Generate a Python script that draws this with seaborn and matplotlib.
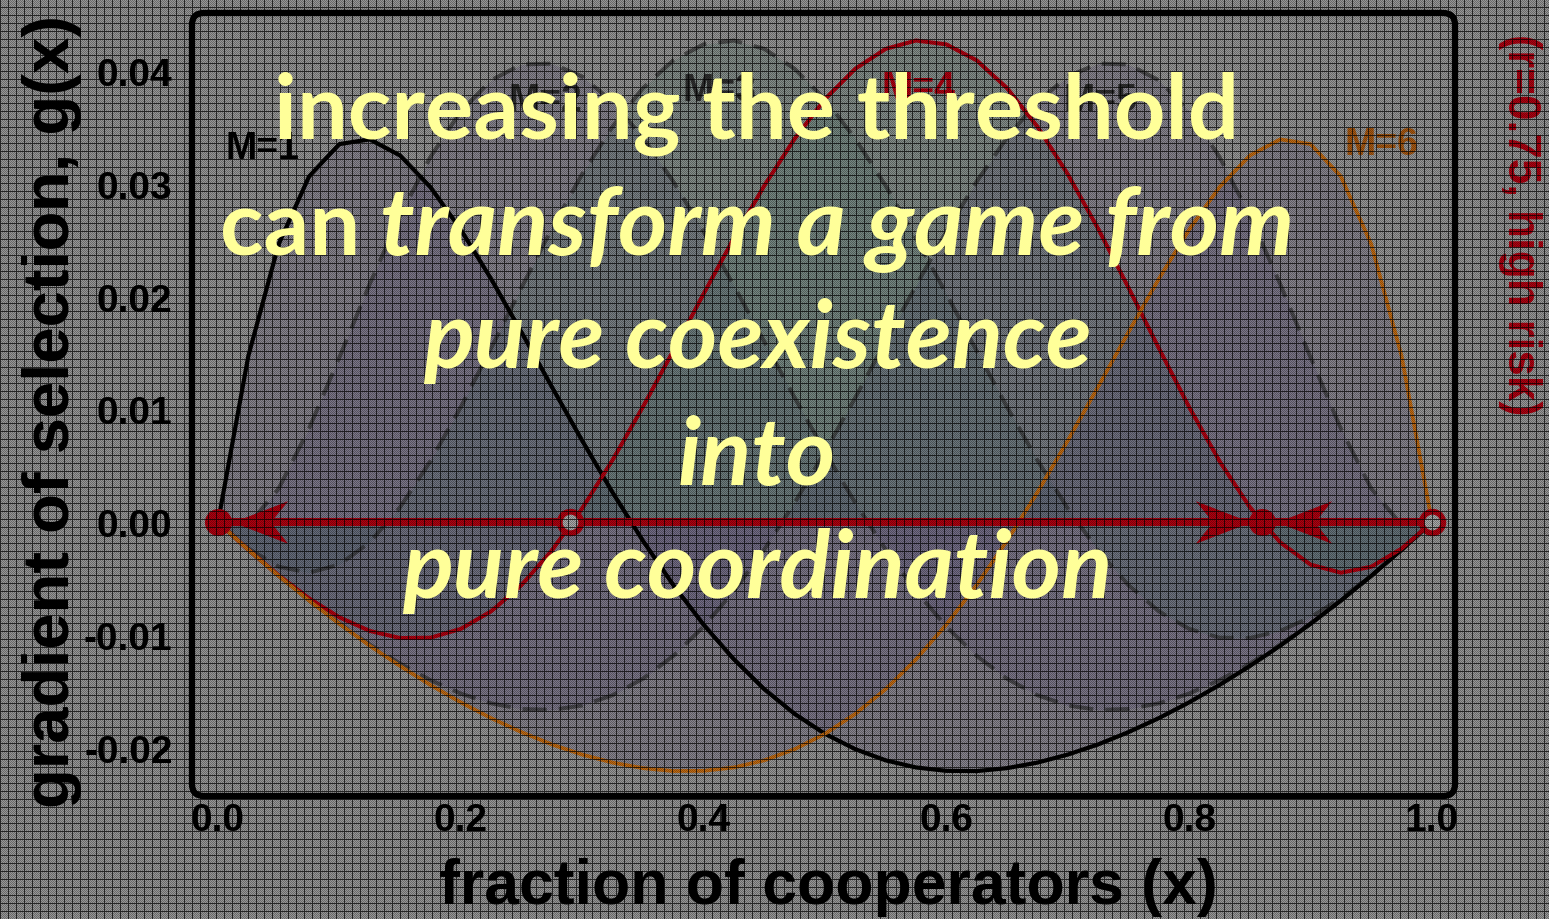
import numpy as np
import pandas as pd
import matplotlib
matplotlib.use("Agg")
import matplotlib.pyplot as plt
import seaborn as sns
from matplotlib.path import Path
from matplotlib.markers import MarkerStyle
from matplotlib.patches import FancyBboxPatch

# ---------------------------------------------------------------- data
frac_coop = np.round(np.arange(41) * 0.025, 3)

grad_M1 = [0.0, 0.01474, 0.02465, 0.03065, 0.03352, 0.03394, 0.03251, 0.02971, 0.02594, 0.02157,
           0.01685, 0.01201, 0.00724, 0.00265, -0.00163, -0.00555, -0.00907, -0.01215, -0.01479, -0.01698,
           -0.01875, -0.02011, -0.02110, -0.02173, -0.02203, -0.02205, -0.02179, -0.02130, -0.02059, -0.01969,
           -0.01860, -0.01736, -0.01596, -0.01442, -0.01274, -0.01094, -0.00900, -0.00694, -0.00475, -0.00244, 0.0]
grad_M2 = [0.0, -0.00024, 0.00299, 0.00830, 0.01462, 0.02112, 0.02718, 0.03238, 0.03643, 0.03918,
           0.04058, 0.04065, 0.03951, 0.03727, 0.03410, 0.03021, 0.02577, 0.02097, 0.01602, 0.01106,
           0.00625, 0.00172, -0.00242, -0.00610, -0.00925, -0.01185, -0.01387, -0.01533, -0.01624, -0.01663,
           -0.01655, -0.01605, -0.01518, -0.01399, -0.01253, -0.01084, -0.00897, -0.00693, -0.00475, -0.00244, 0.0]
grad_M3 = [0.0, -0.00233, -0.00394, -0.00447, -0.00375, -0.00178, 0.00134, 0.00542, 0.01021, 0.01544,
           0.02080, 0.02603, 0.03086, 0.03507, 0.03848, 0.04094, 0.04236, 0.04270, 0.04196, 0.04020,
           0.03750, 0.03399, 0.02983, 0.02518, 0.02024, 0.01519, 0.01022, 0.00551, 0.00123, -0.00250,
           -0.00557, -0.00789, -0.00945, -0.01023, -0.01026, -0.00963, -0.00842, -0.00674, -0.00471, -0.00244, 0.0]
grad_M4 = [0.0, -0.00244, -0.00471, -0.00674, -0.00842, -0.00963, -0.01026, -0.01023, -0.00945, -0.00789,
           -0.00557, -0.00250, 0.00123, 0.00551, 0.01022, 0.01519, 0.02024, 0.02518, 0.02983, 0.03399,
           0.03750, 0.04020, 0.04196, 0.04270, 0.04236, 0.04094, 0.03848, 0.03507, 0.03086, 0.02603,
           0.02080, 0.01544, 0.01021, 0.00542, 0.00134, -0.00178, -0.00375, -0.00447, -0.00394, -0.00233, 0.0]
grad_M5 = [0.0, -0.00244, -0.00475, -0.00693, -0.00897, -0.01084, -0.01253, -0.01399, -0.01518, -0.01605,
           -0.01655, -0.01663, -0.01624, -0.01533, -0.01387, -0.01185, -0.00925, -0.00610, -0.00242, 0.00172,
           0.00625, 0.01106, 0.01602, 0.02097, 0.02577, 0.03021, 0.03410, 0.03727, 0.03951, 0.04065,
           0.04058, 0.03918, 0.03643, 0.03238, 0.02718, 0.02112, 0.01462, 0.00830, 0.00299, -0.00024, 0.0]
grad_M6 = [0.0, -0.00244, -0.00475, -0.00694, -0.00900, -0.01094, -0.01274, -0.01442, -0.01596, -0.01736,
           -0.01860, -0.01969, -0.02059, -0.02130, -0.02179, -0.02205, -0.02203, -0.02173, -0.02110, -0.02011,
           -0.01875, -0.01698, -0.01479, -0.01215, -0.00907, -0.00555, -0.00163, 0.00265, 0.00724, 0.01201,
           0.01685, 0.02157, 0.02594, 0.02971, 0.03251, 0.03394, 0.03352, 0.03065, 0.02465, 0.01474, 0.0]

thresholds = [1, 2, 3, 4, 5, 6]
gradients = [grad_M1, grad_M2, grad_M3, grad_M4, grad_M5, grad_M6]

# curve labels: (threshold, x, y)
label_M = [1, 2, 3, 4, 5, 6]
label_x = [0.037, 0.270, 0.413, 0.577, 0.727, 0.958]
label_y = [0.0332, 0.0374, 0.0383, 0.0385, 0.0374, 0.0335]

# fixed points of the M=4 dynamics on g(x)=0
stable_eq = [0.0, 0.86]
unstable_eq = [0.29, 1.0]
flow_left_x = [0.040, 0.900]
flow_right_x = [0.822]

x_ticks = [0.0, 0.2, 0.4, 0.6, 0.8, 1.0]
x_ticklabels = ["0.0", "0.2", "0.4", "0.6", "0.8", "1.0"]
y_ticks = [-0.02, -0.01, 0.0, 0.01, 0.02, 0.03, 0.04]
y_ticklabels = ["-0.02", "-0.01", "0.00", "0.01", "0.02", "0.03", "0.04"]

message = [
    ("increasing the threshold", None),
    ("can ", "transform a game from"),
    (None, "pure coexistence"),
    (None, "into"),
    (None, "pure coordination"),
]

# ---------------------------------------------------------------- styles
W, H = 1549, 920
BG = "#969696"
RED = "#b0000f"
ORANGE = "#c26a10"
DASH = "#333333"
YELLOW = "#ffff99"

line_color = {1: "black", 2: DASH, 3: DASH, 4: RED, 5: DASH, 6: ORANGE}
line_dash = {1: "-", 2: (0, (6, 3)), 3: (0, (6, 3)), 4: "-", 5: (0, (6, 3)), 6: "-"}
line_width = {1: 3.0, 2: 2.9, 3: 2.9, 4: 2.9, 5: 2.9, 6: 2.7}
line_alpha = {1: 1.0, 2: 0.7, 3: 0.7, 4: 1.0, 5: 0.7, 6: 1.0}
fill_color = {1: "#4b3f70", 2: "#4b3f70", 3: "#3d6b5e", 4: "#3d6b5e", 5: "#4b3f70", 6: "#4b3f70"}
label_color = {1: "black", 2: "#2e2e2e", 3: "#2e2e2e", 4: RED, 5: "#2e2e2e", 6: "#a85810"}

sns.set_theme(style="white")
plt.rcParams["font.family"] = ["Liberation Sans", "DejaVu Sans"]
plt.rcParams["font.weight"] = "bold"

fig = plt.figure(figsize=(W / 100, H / 100), dpi=100)
fig.patch.set_facecolor(BG)

ax_w, ax_h = 1455 - 192, 797 - 14
ax = fig.add_axes([192 / W, 1 - 797 / H, ax_w / W, ax_h / H])
ax.set_facecolor(BG)

df = pd.DataFrame({
    "x": np.tile(frac_coop, len(thresholds)),
    "g": np.concatenate(gradients),
    "M": np.repeat(thresholds, len(frac_coop)),
})

for m in thresholds:
    sub = df[df["M"] == m]
    ax.fill_between(sub["x"], sub["g"], 0, color=fill_color[m], alpha=0.2, lw=0, zorder=1)

for m in thresholds:
    sub = df[df["M"] == m]
    sns.lineplot(data=sub, x="x", y="g", ax=ax, color=line_color[m], linestyle=line_dash[m],
                 linewidth=line_width[m], alpha=line_alpha[m], zorder=3 if m in (1, 4, 6) else 2,
                 legend=False)

for m, lx, ly in zip(label_M, label_x, label_y):
    ax.text(lx, ly, f"M={m}", color=label_color[m], fontsize=27, fontweight="bold",
            ha="center", va="center", zorder=4)

# flow of the M=4 dynamics along g(x)=0
eq_all = sorted(stable_eq + unstable_eq)
sns.lineplot(x=eq_all, y=[0.0] * len(eq_all), ax=ax, color=RED, linewidth=5.8, zorder=5)

arrow_left = Path([(-1.0, 0.0), (0.6, 0.62), (0.1, 0.0), (0.6, -0.62), (-1.0, 0.0)],
                  [Path.MOVETO, Path.LINETO, Path.LINETO, Path.LINETO, Path.CLOSEPOLY])
arrow_right = Path([(1.0, 0.0), (-0.6, 0.62), (-0.1, 0.0), (-0.6, -0.62), (1.0, 0.0)],
                   [Path.MOVETO, Path.LINETO, Path.LINETO, Path.LINETO, Path.CLOSEPOLY])
sns.scatterplot(x=flow_left_x, y=[0.0] * len(flow_left_x), ax=ax, marker=MarkerStyle(arrow_left),
                s=49.5 ** 2, color=RED, linewidth=0, zorder=6)
sns.scatterplot(x=flow_right_x, y=[0.0] * len(flow_right_x), ax=ax, marker=MarkerStyle(arrow_right),
                s=49.5 ** 2, color=RED, linewidth=0, zorder=6)

sns.scatterplot(x=stable_eq, y=[0.0] * len(stable_eq), ax=ax, marker="o", s=19.5 ** 2,
                color=RED, linewidth=0, zorder=7)
sns.scatterplot(x=unstable_eq, y=[0.0] * len(unstable_eq), ax=ax, marker="o", s=15.5 ** 2,
                facecolor="#a8a8a8", edgecolor=RED, linewidth=4.2, zorder=7)

ax.set_xlim(-0.0214, 1.019)
ax.set_ylim(-0.02426, 0.04514)
ax.set_xticks(x_ticks)
ax.set_xticklabels(x_ticklabels)
ax.set_yticks(y_ticks)
ax.set_yticklabels(y_ticklabels)
ax.tick_params(length=0, labelsize=28, colors="black")
ax.tick_params(axis="x", pad=4)
ax.tick_params(axis="y", pad=14)
for lab in ax.get_xticklabels() + ax.get_yticklabels():
    lab.set_fontweight("bold")

# rounded frame around the plotting area
for sp in ax.spines.values():
    sp.set_visible(False)
r_px = 12
frame = FancyBboxPatch((0, 0), 1, 1, boxstyle=f"round,pad=0,rounding_size={r_px / ax_w}",
                       mutation_aspect=ax_w / ax_h, transform=ax.transAxes, fill=False,
                       edgecolor="black", linewidth=4.5, clip_on=False, zorder=8)
ax.add_patch(frame)

ax.set_xlabel("fraction of cooperators (x)", fontsize=45, fontweight="bold", color="black", va="center")
ax.xaxis.set_label_coords(0.5036, -0.116)
ax.set_ylabel("gradient of selection, g(x)", fontsize=47, fontweight="bold", color="black", va="center")
ax.yaxis.set_label_coords(-0.1108, 0.4917)

fig.text(1520 / W, 1 - 225 / H, "(r=0.75, high risk)", rotation=270, ha="center", va="center",
         color=RED, fontsize=33, fontweight="bold")

# screen-like mesh over the chart
yy, xx = np.indices((H, W))
mesh = np.zeros((H, W, 4))
mesh[..., 3] = np.where((xx + yy) % 2 == 0, 0.0, 0.3)
mesh[..., 3] = np.where((xx % 8 == 0) | (yy % 8 == 0), 0.75, mesh[..., 3])
mesh_ax = fig.add_axes([0, 0, 1, 1], zorder=5)
mesh_ax.imshow(mesh, interpolation="nearest", aspect="auto", extent=(0, W, H, 0))
mesh_ax.set_xlim(0, W)
mesh_ax.set_ylim(H, 0)
mesh_ax.set_axis_off()
mesh_ax.patch.set_alpha(0)

# headline message
FS_PLAIN = 65
FS_ITAL = 68
msg_font = ["Lato", "DejaVu Sans"]
baselines = [138, 255, 368, 485, 598]
center_x = 757
renderer = fig.canvas.get_renderer()
for (plain, ital), base in zip(message, baselines):
    yf = 1 - base / H
    parts = []
    if plain:
        parts.append(fig.text(0, yf, plain.strip(), color=YELLOW, fontsize=FS_PLAIN, fontweight="bold",
                              family=msg_font, ha="left", va="baseline", zorder=10))
    if ital:
        parts.append(fig.text(0, yf, ital, color=YELLOW, fontsize=FS_ITAL, fontweight="bold", style="italic",
                              family=msg_font, ha="left", va="baseline", zorder=10))
    gap = 0.22 * FS_PLAIN / 0.72 if len(parts) == 2 else 0
    widths = [p.get_window_extent(renderer).width for p in parts]
    x0 = center_x - (sum(widths) + gap) / 2
    for p, w in zip(parts, widths):
        p.set_x(x0 / W)
        x0 += w + gap

fig.savefig("out.png", dpi=100, facecolor=fig.get_facecolor())
